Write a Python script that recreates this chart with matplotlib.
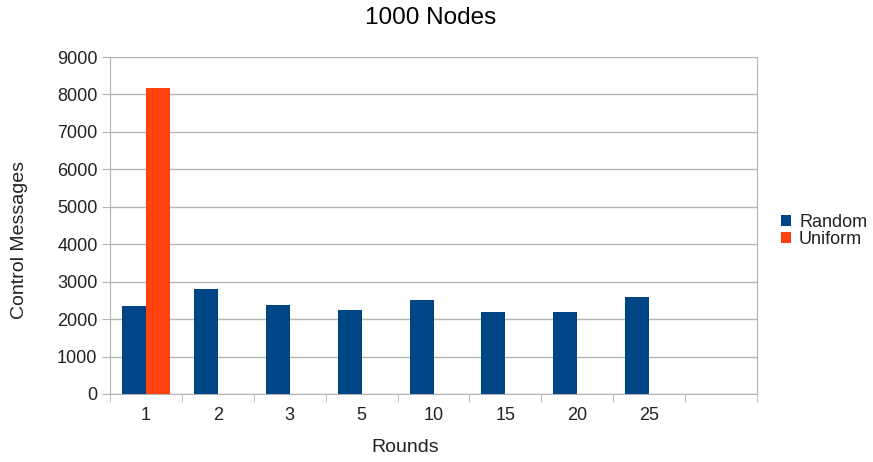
import numpy as np
import matplotlib
matplotlib.use("Agg")
import matplotlib.pyplot as plt

plt.rcParams['font.family'] = ['Liberation Sans', 'DejaVu Sans']

# data
rounds = ["1", "2", "3", "5", "10", "15", "20", "25", ""]
random_msgs = [2340, 2815, 2370, 2250, 2510, 2190, 2190, 2590, np.nan]
uniform_msgs = [8170, np.nan, np.nan, np.nan, np.nan, np.nan, np.nan, np.nan, np.nan]

x = np.arange(len(rounds))
w = 1 / 3

W, H = 873, 462
fig = plt.figure(figsize=(W / 100, H / 100), dpi=100)
ax = fig.add_axes([110 / W, 1 - 394 / H, 647 / W, 337 / H])

ax.bar(x - w / 2, random_msgs, w, color="#004586", label="Random", zorder=3)
ax.bar(x + w / 2, uniform_msgs, w, color="#ff420e", label="Uniform", zorder=3)

ax.set_xlim(-0.5, len(rounds) - 0.5)
ax.set_ylim(0, 9000)
ax.set_yticks(np.arange(0, 9001, 1000))
ax.set_xticks(x)
ax.set_xticklabels(rounds)
ax.set_xticks(np.arange(-0.5, len(rounds)), minor=True)
ax.tick_params(axis="x", which="major", length=0, pad=9)
ax.tick_params(axis="x", which="minor", length=6, color="#b3b3b3")
ax.tick_params(axis="y", length=6, color="#b3b3b3", pad=3)
ax.tick_params(labelsize=13, labelcolor="#222222")

ax.grid(axis="y", color="#b3b3b3", linewidth=1, zorder=0)
for s in ["left", "bottom", "right"]:
    ax.spines[s].set_color("#b3b3b3")
ax.spines["top"].set_visible(False)

fig.text(431 / W, 1 - 18 / H, "1000 Nodes", fontsize=17.5, ha="center", va="center")
fig.text(405 / W, 1 - 448 / H, "Rounds", fontsize=14, ha="center", va="center",
         color="#222222")
fig.text(20 / W, 1 - 240 / H, "Control Messages", fontsize=14, ha="center",
         va="center", rotation=90, color="#222222")

fig.legend(loc="center left", bbox_to_anchor=(781 / W, 1 - 231 / H), frameon=False,
           fontsize=13, handlelength=0.55, handleheight=0.55, handletextpad=0.45,
           labelspacing=0.0, borderpad=0, borderaxespad=0, labelcolor="#222222")

fig.savefig("out.png", dpi=100)
